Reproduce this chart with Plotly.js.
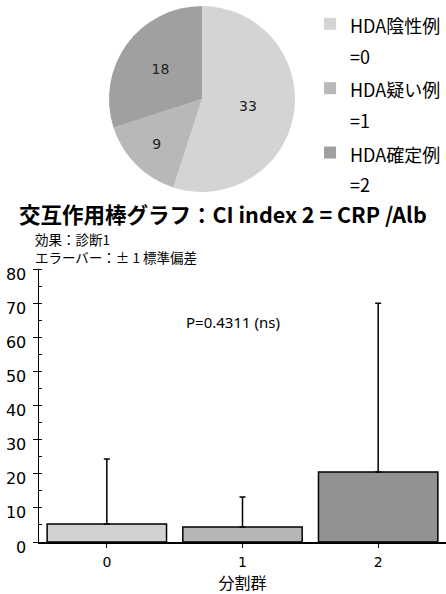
<!DOCTYPE html>
<html>
<head>
<meta charset="utf-8">
<script src="https://cdn.plot.ly/plotly-3.0.1.min.js"></script>
<style>html,body{margin:0;padding:0;background:#fff;}#chart{width:446px;height:594px;}</style>
</head>
<body>
<div id="chart"></div>
<script>
// Pie data
const pieCategories = ["HDA陰性例", "HDA疑い例", "HDA確定例"];
const pieCodes = ["=0", "=1", "=2"];
const pieValues = [33, 9, 18];
const pieColors = ["#d4d4d4", "#b8b8b8", "#a0a0a0"];

// Bar data
const barGroups = ["0", "1", "2"];
const barMeans = [5.3, 4.4, 20.5];
const barSDplus = [19.0, 8.8, 49.5];
const barColors = ["#d2d2d2", "#b6b6b6", "#929292"];

const yTickVals = [0, 10, 20, 30, 40, 50, 60, 70, 80];

const JP = "Noto Sans CJK JP, Noto Sans, sans-serif";
const DV = "DejaVu Sans, Liberation Sans, sans-serif";

const W = 446, H = 594;
const px = v => v / W;
const py = v => 1 - v / H;

const pieLabels = pieCategories.map((c, i) =>
  '<span style="font-size:18px">' + c + '</span><br><span style="font-size:18px">' + pieCodes[i] + '</span>');

const pieTrace = {
  type: "pie",
  labels: pieLabels,
  values: pieValues,
  sort: false,
  direction: "clockwise",
  rotation: 0,
  marker: { colors: pieColors, line: { width: 0 } },
  textinfo: "value",
  textposition: "inside",
  insidetextorientation: "horizontal",
  textfont: { family: DV, size: 14, color: "#222" },
  domain: { x: [px(109), px(295)], y: [py(192), py(6)] },
  showlegend: true,
  hoverinfo: "none"
};

const barTrace = {
  type: "bar",
  x: barGroups,
  y: barMeans,
  width: 0.88,
  marker: { color: barColors, line: { color: "#000", width: 1.5 } },
  error_y: {
    type: "data", symmetric: false, array: barSDplus,
    arrayminus: barMeans.map(() => 0),
    color: "#000", thickness: 1.5, width: 3
  },
  showlegend: false,
  hoverinfo: "none"
};

const layout = {
  width: W, height: H,
  margin: { l: 0, r: 0, t: 0, b: 0 },
  paper_bgcolor: "#fff", plot_bgcolor: "#fff",
  showlegend: true,
  legend: {
    x: px(310), xanchor: "left",
    y: py(2), yanchor: "top",
    valign: "top",
    font: { family: JP, size: 23.6, color: "#000" },
    bgcolor: "rgba(0,0,0,0)",
    traceorder: "normal"
  },
  xaxis: {
    domain: [px(39), 1],
    type: "category",
    range: [-0.5, 2.5],
    showline: true, linecolor: "#000", linewidth: 1.5,
    ticks: "outside", ticklen: 4, tickcolor: "#000",
    tickfont: { family: DV, size: 14, color: "#000" },
    ticklabelstandoff: 3,
    showgrid: false, zeroline: false,
    title: { text: "分割群", font: { family: JP, size: 16, color: "#000" }, standoff: 2 },
    fixedrange: true
  },
  yaxis: {
    domain: [py(542), py(269)],
    range: [0, 80],
    tickvals: yTickVals,
    showline: true, linecolor: "#000", linewidth: 1.5,
    ticks: "outside", ticklen: 5, tickcolor: "#000",
    minor: { dtick: 5, ticks: "inside", ticklen: 3, tickcolor: "#000" },
    tickfont: { family: DV, size: 16, color: "#000" },
    ticklabelshift: 5,
    ticklabelstandoff: 3,
    showgrid: false, zeroline: false,
    fixedrange: true
  },
  annotations: [
    { text: "<b>交互作用棒グラフ：CI index 2 = CRP /Alb</b>", xref: "paper", yref: "paper",
      x: 0.5, y: py(213), xanchor: "center", yanchor: "middle", showarrow: false,
      font: { family: JP, size: 21.5, color: "#000" } },
    { text: "効果：診断1<br>エラーバー：± 1 標準偏差", xref: "paper", yref: "paper",
      x: px(33), y: py(248), xanchor: "left", yanchor: "middle", align: "left", showarrow: false,
      font: { family: JP, size: 13.5, color: "#000" } },
    { text: "P=0.4311 (ns)", xref: "paper", yref: "paper",
      x: px(184), y: py(322), xanchor: "left", yanchor: "middle", showarrow: false,
      font: { family: "Noto Sans, sans-serif", size: 15, color: "#000" } }
  ]
};

Plotly.newPlot("chart", [pieTrace, barTrace], layout, { displayModeBar: false, staticPlot: true });
</script>
</body>
</html>
